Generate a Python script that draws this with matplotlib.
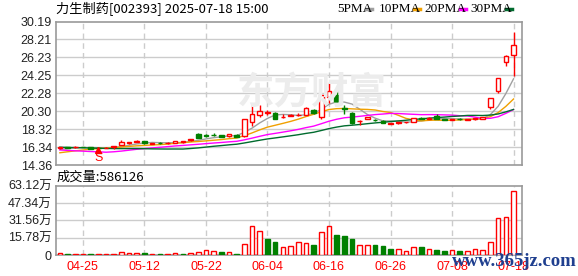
import matplotlib
matplotlib.use('Agg')
import matplotlib.pyplot as plt
from matplotlib.lines import Line2D
import numpy as np
import pandas as pd

plt.rcParams['font.family'] = ['Liberation Sans', 'Noto Sans CJK SC']

title = '力生制药[002393] 2025-07-18 15:00'

dates = ['04-22', '04-23', '04-24', '04-25', '04-28', '04-29', '04-30',
         '05-06', '05-07', '05-08', '05-09', '05-12', '05-13', '05-14', '05-15', '05-16',
         '05-19', '05-20', '05-21', '05-22', '05-23', '05-26', '05-27', '05-28', '05-29', '05-30',
         '06-03', '06-04', '06-05', '06-06', '06-09', '06-10', '06-11', '06-12', '06-13',
         '06-16', '06-17', '06-18', '06-19', '06-20', '06-23', '06-24', '06-25', '06-26', '06-27', '06-30',
         '07-01', '07-02', '07-03', '07-04', '07-07', '07-08', '07-09', '07-10', '07-11',
         '07-14', '07-15', '07-16', '07-17', '07-18']

# closes before the visible window (only used for the moving averages)
pre_close = [16.9, 17.0, 16.95, 17.05, 16.9, 16.85, 16.95, 17.0, 16.8, 16.9,
             17.2, 17.3, 17.1, 17.0, 16.9, 17.1, 15.5, 15.3, 14.9, 15.0,
             15.2, 15.3, 15.4, 15.3, 15.5, 15.8, 16.0, 16.1, 16.2]

open_ = [16.25, 16.30, 16.30, 16.36, 16.34, 16.25, 16.24, 16.40, 16.56, 16.84,
         16.93, 16.97, 16.72, 16.80, 16.75, 16.78, 16.93, 17.09, 17.79, 17.62,
         17.72, 17.64, 17.53, 17.70, 17.60, 19.15, 19.89, 20.05, 20.08, 19.60,
         19.80, 19.86, 19.89, 20.44, 19.63, 21.84, 22.03, 20.70, 20.07, 19.20,
         19.41, 19.35, 19.23, 18.90, 18.97, 19.08, 19.15, 19.55, 19.41, 19.78,
         19.42, 19.36, 19.45, 19.35, 19.38, 19.45, 20.80, 22.47, 25.72, 26.45]
high = [16.35, 16.34, 16.44, 16.40, 16.36, 16.33, 16.30, 16.44, 17.12, 16.95,
        17.12, 17.00, 16.82, 16.85, 16.85, 17.02, 16.99, 17.28, 17.85, 17.75,
        17.85, 17.68, 17.82, 17.75, 19.45, 21.10, 20.96, 20.44, 20.25, 20.00,
        19.97, 20.15, 20.72, 20.55, 22.15, 23.46, 22.77, 20.99, 20.20, 19.30,
        19.68, 19.45, 19.28, 19.00, 19.08, 19.15, 19.55, 19.65, 19.62, 19.95,
        19.48, 19.48, 19.50, 19.45, 19.52, 19.65, 21.78, 23.95, 26.45, 28.99]
low = [16.18, 16.25, 16.28, 16.30, 16.15, 16.12, 16.20, 16.18, 16.56, 16.65,
       16.90, 16.70, 16.66, 16.70, 16.72, 16.75, 16.80, 17.05, 17.30, 17.45,
       17.56, 17.42, 17.50, 17.45, 17.45, 18.71, 19.64, 19.89, 19.40, 19.58,
       19.75, 19.75, 19.85, 20.00, 19.45, 21.18, 21.18, 20.00, 18.90, 18.80,
       19.38, 19.20, 18.97, 18.85, 18.92, 19.00, 19.12, 19.40, 19.38, 19.40,
       19.30, 19.32, 19.33, 19.30, 19.35, 19.42, 20.55, 22.29, 25.23, 24.20]
close = [16.30, 16.28, 16.33, 16.34, 16.18, 16.22, 16.26, 16.44, 16.86, 16.88,
         16.97, 16.75, 16.78, 16.74, 16.80, 17.00, 16.97, 17.25, 17.38, 17.58,
         17.68, 17.45, 17.79, 17.50, 19.41, 20.00, 20.33, 20.25, 19.45, 19.65,
         19.85, 19.92, 20.63, 20.07, 22.10, 22.54, 21.29, 20.50, 18.97, 19.26,
         19.63, 19.28, 19.00, 18.95, 19.05, 19.12, 19.52, 19.48, 19.59, 19.48,
         19.36, 19.42, 19.38, 19.42, 19.50, 19.60, 21.74, 23.95, 26.41, 27.63]

# volume in 万股
volume = [1.8, 0.9, 0.9, 0.9, 0.9, 0.9, 0.9, 0.9, 2.7, 1.8,
          1.8, 1.8, 0.9, 0.9, 0.9, 1.8, 0.9, 1.8, 2.7, 4.6,
          3.6, 2.7, 2.7, 0.9, 10.0, 26.4, 21.9, 14.6, 11.8, 7.3,
          8.2, 11.8, 10.9, 9.1, 21.0, 26.4, 18.2, 17.3, 14.6, 9.1,
          9.1, 9.1, 8.2, 5.5, 5.5, 3.6, 7.3, 7.3, 5.5, 4.6,
          3.6, 4.6, 3.6, 3.6, 5.5, 4.6, 11.8, 33.7, 34.6, 58.6126]

ma_periods = [5, 10, 20, 30]
ma_names = ['5PMA', '10PMA', '20PMA', '30PMA']
ma_colors = ['#a0a0a0', '#f0a000', '#ff00ff', '#006b2e']

price_ticks = [14.36, 16.34, 18.32, 20.30, 22.28, 24.25, 26.23, 28.21, 30.19]
vol_ticks = [0, 15.78, 31.56, 47.34, 63.12]
vol_labels = ['0', '15.78万', '31.56万', '47.34万', '63.12万']
date_ticks = ['04-25', '05-12', '05-22', '06-04', '06-16', '06-26', '07-08', '07-18']
signal_dates = ['04-29']

RED = '#ff0000'
GREEN = '#008000'
GRID = '#cccccc'
BORDER = '#999999'

n = len(close)
x = np.arange(n)
o = np.array(open_)
h = np.array(high)
l = np.array(low)
c = np.array(close)
prev_c = np.concatenate([[pre_close[-1]], c[:-1]])
candle_up = c >= o
vol_up = c >= prev_c

all_close = pd.Series(pre_close + close)
mas = [all_close.rolling(p).mean().to_numpy()[-n:] for p in ma_periods]

fig = plt.figure(figsize=(5.78, 2.76), dpi=100)
ax = fig.add_axes([56 / 578, 1 - 165 / 276, 466 / 578, 143.5 / 276])
axv = fig.add_axes([56 / 578, 1 - 255 / 276, 466 / 578, 69.3 / 276])

tick_idx = [dates.index(d) for d in date_ticks]

for a in (ax, axv):
    a.set_xlim(-0.5, 60.1)
    for s in a.spines.values():
        s.set_color(BORDER)
        s.set_linewidth(1.2)
    for t in tick_idx:
        a.axvline(t, color=GRID, lw=1, ls=(0, (4, 3)), zorder=0)
    a.tick_params(length=0, labelsize=9, colors='#222222', pad=3)

# price panel
ax.set_ylim(price_ticks[0], price_ticks[-1])
ax.set_yticks(price_ticks)
ax.set_yticklabels(['%.2f' % v for v in price_ticks])
ax.set_xticks([])
for v in price_ticks[1:-1]:
    ax.axhline(v, color=GRID, lw=1, zorder=0)

# faint site watermark
fig.text(312 / 578, 1 - 93 / 276, '东方财富', fontsize=27, color='#ececec',
         ha='center', va='center', family=['Noto Sans CJK SC'], fontweight='bold', zorder=0)

for ma, col in zip(mas, ma_colors):
    ax.plot(x, ma, color=col, lw=1, zorder=2)

body_w = 0.6
cols = np.where(candle_up, RED, GREEN)
ax.vlines(x, l, h, colors=cols, lw=1, zorder=3)
body_h = np.maximum(np.abs(c - o), 0.03)
ax.bar(x, body_h, bottom=np.minimum(o, c), width=body_w,
       color=np.where(candle_up, 'white', GREEN), edgecolor=cols, linewidth=1, zorder=4)

for d in signal_dates:
    i = dates.index(d)
    ax.plot(i, l[i] - 0.15, marker='^', ms=4, color=RED, zorder=5)
    ax.text(i, l[i] - 1.0, 'S', color=RED, fontsize=9, ha='center', va='center', zorder=5)

# volume panel
axv.set_ylim(vol_ticks[0], vol_ticks[-1])
axv.set_yticks(vol_ticks)
axv.set_yticklabels(vol_labels)
for v in vol_ticks[1:-1]:
    axv.axhline(v, color=GRID, lw=1, zorder=0)
vcols = np.where(vol_up, RED, GREEN)
axv.bar(x, volume, width=body_w, color=np.where(vol_up, 'white', GREEN),
        edgecolor=vcols, linewidth=1, zorder=3)
axv.set_xticks(tick_idx)
axv.set_xticklabels(date_ticks, color=RED, fontsize=9)
axv.tick_params(axis='x', pad=4)

# header texts
fig.text(56 / 578, 1 - 9 / 276, title, fontsize=9.5, ha='left', va='center',
         family=['Noto Sans CJK SC'])
fig.text(57 / 578, 1 - 177 / 276, '成交量:%d' % round(volume[-1] * 10000), fontsize=9.5,
         ha='left', va='center', family=['Noto Sans CJK SC'])

leg_text_x = [337, 379, 424, 470]
leg_dash_x = [366, 414, 460, 506]
for name, col, tx, dx in zip(ma_names, ma_colors, leg_text_x, leg_dash_x):
    fig.text(tx / 578, 1 - 9 / 276, name, fontsize=9.5, ha='left', va='center',
             family=['Liberation Serif'])
    fig.add_artist(Line2D([dx / 578, (dx + 6) / 578], [1 - 9 / 276, 1 - 9 / 276],
                          color=col, lw=2.5, transform=fig.transFigure))

fig.text(514 / 578, 1 - 261 / 276, 'www.365jz.com', fontsize=13.5, color='#1f3f8f',
         ha='center', va='center', family=['Liberation Serif'], fontweight='bold', zorder=10)

fig.savefig('out.png', dpi=100, facecolor='white')
